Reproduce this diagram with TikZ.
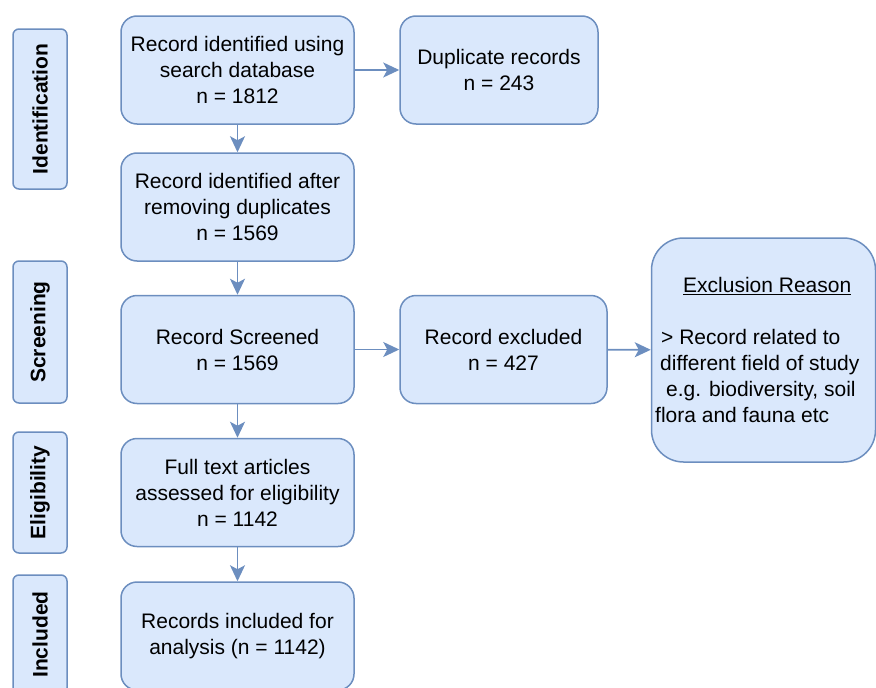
\documentclass[tikz,border=0pt]{standalone}
\usepackage{fontspec}
\setmainfont{Liberation Sans}
\usepackage{xcolor}
\usetikzlibrary{arrows.meta}

\definecolor{boxfill}{HTML}{DAE8FC}
\definecolor{boxline}{HTML}{6C8EBF}

\begin{document}
\begin{tikzpicture}[x=1pt,y=-1pt,
  box/.style={draw=boxline,fill=boxfill,line width=1.5pt,rounded corners=16pt,
              minimum width=233pt,minimum height=108pt,inner sep=0pt,align=center,
              font=\fontsize{21}{26}\selectfont},
  phase/.style={draw=boxline,fill=boxfill,line width=1.5pt,rounded corners=6pt,
                rotate=90,minimum height=54pt,inner sep=0pt,
                font=\fontsize{21}{26}\selectfont\bfseries},
  arr/.style={-{Stealth[length=16pt,width=15pt,inset=4pt]},draw=boxline,
              fill=boxline,line width=1.6pt}]

  \useasboundingbox (0,0) rectangle (876,688);
  \clip (0,0) rectangle (876,688);

  % stage labels
  \node[phase,minimum width=160pt] (ident) at (40,109)   {Identification};
  \node[phase,minimum width=142pt] (screen) at (40,332)  {Screening};
  \node[phase,minimum width=121pt] (elig) at (40,492.5)  {Eligibility};
  \node[phase,minimum width=119pt] (incl) at (40,634.5)  {Included};

  % main column
  \node[box] (search)  at (237.5,70)    {Record identified using\\search database\\n = 1812};
  \node[box] (nodup)   at (237.5,207)   {Record identified after\\removing duplicates\\n = 1569};
  \node[box] (scrn)    at (237.5,349.5) {Record Screened\\n = 1569};
  \node[box] (full)    at (237.5,492.5) {Full text articles\\assessed for eligibility\\n = 1142};
  \node[box] (final)   at (237.5,636)   {Records included for\\analysis (n = 1142)};

  % side boxes
  \node[box,minimum width=198pt] (dup)  at (499,70)      {Duplicate records\\n = 243};
  \node[box,minimum width=207pt] (excl) at (503.5,349.5) {Record excluded\\n = 427};
  \node[box,minimum width=224pt,minimum height=224pt,rounded corners=32pt]
    (reason) at (763.5,350) {};
  \node[anchor=west,inner sep=0pt,align=left,font=\fontsize{21}{26}\selectfont]
    (reasontxt) at (655,350)
    {\hspace*{28pt}\underline{Exclusion Reason}\\[26pt]
     \hspace*{6pt}> Record related to\\
     \hspace*{5pt}different field of study\\
     \hspace*{11pt}e.g. biodiversity, soil\\
     flora and fauna etc};

  \draw[arr] (search) -- (nodup);
  \draw[arr] (nodup) -- (scrn);
  \draw[arr] (scrn) -- (full);
  \draw[arr] (full) -- (final);
  \draw[arr] (search) -- (dup);
  \draw[arr] (scrn) -- (excl);
  \draw[arr] (excl) -- (reason);

\end{tikzpicture}
\end{document}
